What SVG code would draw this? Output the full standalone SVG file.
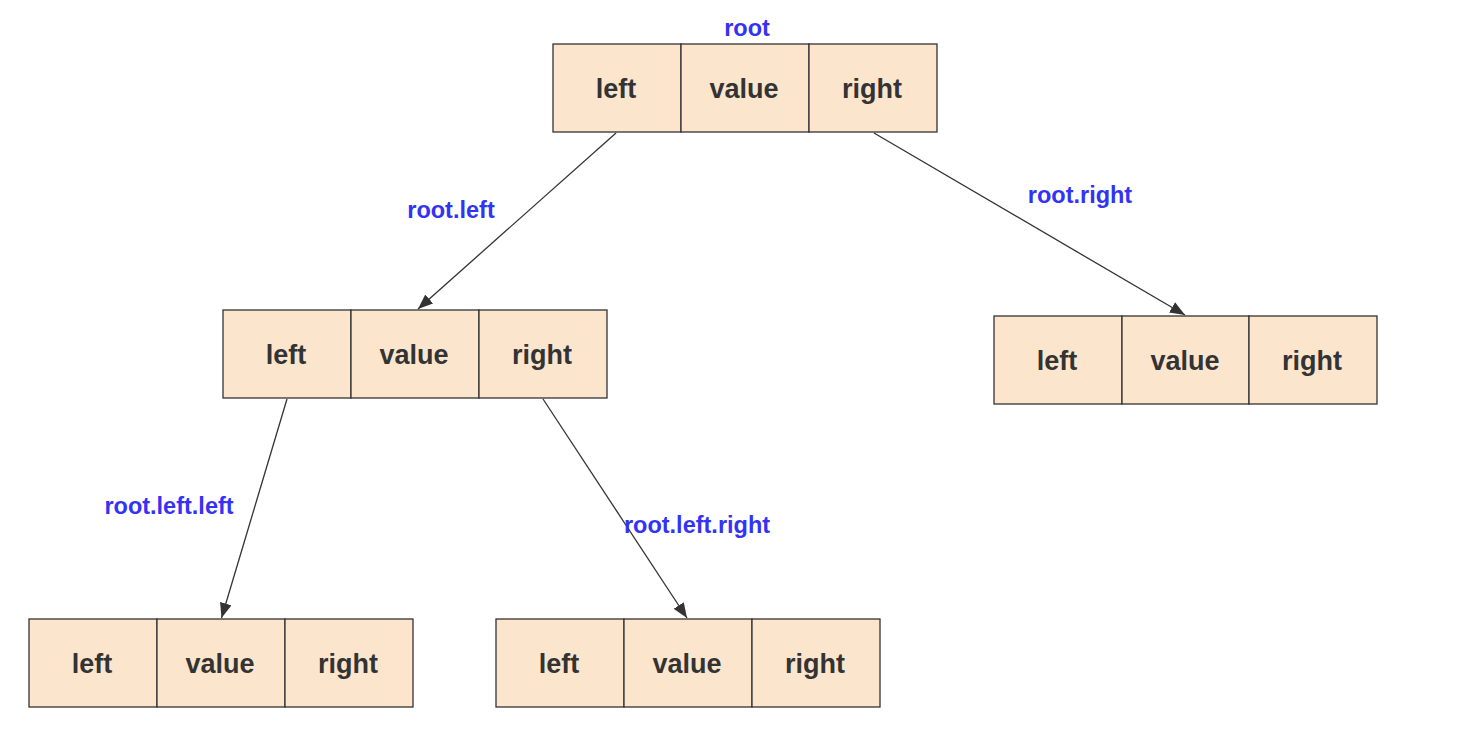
<svg xmlns="http://www.w3.org/2000/svg" width="1460" height="732" viewBox="0 0 1460 732">
<style>
.cell{fill:#fce5cd;stroke:#333;stroke-width:1.3}
.t{font-family:"Liberation Sans",Arial,sans-serif;font-weight:bold;font-size:27px;fill:#333;text-anchor:middle}
.lbl{font-family:"Liberation Sans",Arial,sans-serif;font-weight:bold;font-size:23.5px;fill:#3333f5;text-anchor:middle}
.edge{stroke:#333;stroke-width:1.3;fill:none;marker-end:url(#arr)}
</style>
<defs>
<marker id="arr" markerUnits="userSpaceOnUse" markerWidth="15" markerHeight="12" viewBox="0 0 15 12" refX="15" refY="6" orient="auto">
<path d="M0,0 L15,6 L0,12 z" fill="#333"/>
</marker>
</defs>
<rect width="1460" height="732" fill="#fff"/>
<g id="connectors">
<line class="edge" x1="616" y1="133" x2="418" y2="309"/>
<line class="edge" x1="874" y1="133" x2="1185" y2="315"/>
<line class="edge" x1="287" y1="399" x2="221.5" y2="618"/>
<line class="edge" x1="543" y1="399" x2="687" y2="618"/>
</g>
<g id="labels">
<text class="lbl" x="747" y="36">root</text>
<text class="lbl" x="451" y="218">root.left</text>
<text class="lbl" x="1080" y="203">root.right</text>
<text class="lbl" x="169" y="514">root.left.left</text>
<text class="lbl" x="697" y="533">root.left.right</text>
</g>
<g id="root">
<rect class="cell" x="553" y="44" width="128" height="88"/>
<rect class="cell" x="681" y="44" width="128" height="88"/>
<rect class="cell" x="809" y="44" width="128" height="88"/>
<text class="t" x="616" y="98">left</text>
<text class="t" x="744" y="98">value</text>
<text class="t" x="872" y="98">right</text>
</g>
<g id="root-left">
<rect class="cell" x="223" y="310" width="128" height="88"/>
<rect class="cell" x="351" y="310" width="128" height="88"/>
<rect class="cell" x="479" y="310" width="128" height="88"/>
<text class="t" x="286" y="364">left</text>
<text class="t" x="414" y="364">value</text>
<text class="t" x="542" y="364">right</text>
</g>
<g id="root-right">
<rect class="cell" x="994" y="316" width="128" height="88"/>
<rect class="cell" x="1122" y="316" width="127" height="88"/>
<rect class="cell" x="1249" y="316" width="128" height="88"/>
<text class="t" x="1057" y="370">left</text>
<text class="t" x="1185" y="370">value</text>
<text class="t" x="1312" y="370">right</text>
</g>
<g id="root-left-left">
<rect class="cell" x="29" y="619" width="128" height="88"/>
<rect class="cell" x="157" y="619" width="128" height="88"/>
<rect class="cell" x="285" y="619" width="128" height="88"/>
<text class="t" x="92" y="673">left</text>
<text class="t" x="220" y="673">value</text>
<text class="t" x="348" y="673">right</text>
</g>
<g id="root-left-right">
<rect class="cell" x="496" y="619" width="128" height="88"/>
<rect class="cell" x="624" y="619" width="128" height="88"/>
<rect class="cell" x="752" y="619" width="128" height="88"/>
<text class="t" x="559" y="673">left</text>
<text class="t" x="687" y="673">value</text>
<text class="t" x="815" y="673">right</text>
</g>
</svg>
